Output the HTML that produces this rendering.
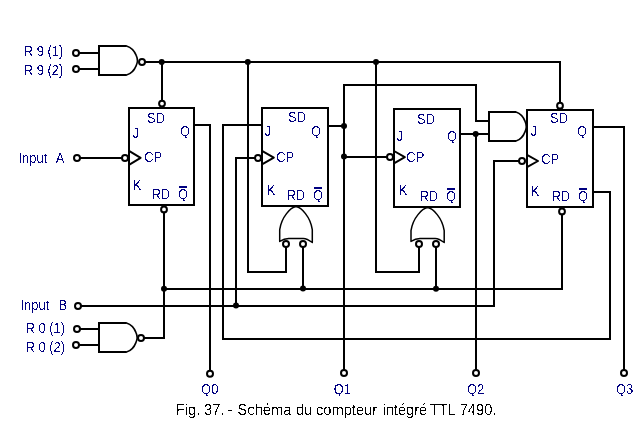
<!DOCTYPE html>
<html lang="fr">
<head>
<meta charset="utf-8">
<title>Fig. 37. - Schéma du compteur intégré TTL 7490</title>
<style>
  html, body { margin: 0; padding: 0; background: #ffffff; }
  body { width: 640px; height: 423px; overflow: hidden; position: relative; }
  svg { position: absolute; left: 0; top: 0; display: block; }
  .w { fill: none; stroke: #000; stroke-width: 2; stroke-linecap: square; stroke-linejoin: miter; }
  .g { fill: #fff; stroke: #000; stroke-width: 2; stroke-linejoin: miter; }
  .k { fill: none; stroke: #000; stroke-width: 2; stroke-linecap: butt; stroke-linejoin: round; }
  .a { fill: none; stroke: #000; stroke-width: 1.6; stroke-linecap: round; stroke-linejoin: round; }
  .t { fill: #fff; stroke: #000; stroke-width: 1.5; stroke-linejoin: round; }
  .b { fill: #fff; stroke: #000; stroke-width: 2; }
  .d { fill: #000; stroke: none; }
  .l { font-family: "Liberation Sans", Arial, sans-serif; font-size: 14px; fill: #000080; }
  .c { font-family: "Liberation Sans", Arial, sans-serif; font-size: 16px; fill: #000; text-rendering: geometricPrecision; }
  .o { fill: #000080; }
</style>
</head>
<body>
<svg width="640" height="423" viewBox="0 0 640 423">

  <defs>
    <!-- alpha threshold: renders the (real) text bi-level, like the non-antialiased original -->
    <filter id="bw" x="0" y="0" width="640" height="423" filterUnits="userSpaceOnUse" color-interpolation-filters="sRGB">
      <feComponentTransfer><feFuncA type="discrete" tableValues="0 0 0 0 0 1 1 1 1 1"/></feComponentTransfer>
    </filter>
    <filter id="bw2" x="0" y="0" width="640" height="423" filterUnits="userSpaceOnUse" color-interpolation-filters="sRGB">
      <feComponentTransfer><feFuncA type="discrete" tableValues="0 0 0 0 0 0 0 0 0 0 0 1 1 1 1 1 1 1 1 1"/></feComponentTransfer>
    </filter>
    <clipPath id="qc" clipPathUnits="userSpaceOnUse"><rect x="-2" y="-14" width="40" height="16"/></clipPath>
  </defs>

  <!-- ================= wires ================= -->
  <g class="w">
    <!-- R9 NAND inputs -->
    <path d="M80,53 H99"/>
    <path d="M80,69 H99"/>
    <!-- R9 bus -->
    <path d="M146,62 H560 V102"/>
    <path d="M162,62 V100"/>
    <path d="M248,62 V272 H286 V248"/>
    <path d="M376,62 V272 H419 V248"/>

    <!-- Input A -->
    <path d="M81,158 H121"/>
    <!-- Q0 -->
    <path d="M194,125 H210 V370"/>
    <!-- FF1 RD / R0 NAND -->
    <path d="M145,338 H164 V213"/>
    <!-- R0 bus -->
    <path d="M164,289 H562 V215"/>
    <path d="M303,248 V289"/>
    <path d="M436,248 V289"/>

    <!-- FF2 J from FF4 /Q -->
    <path d="M262,125 H223 V339 H610 V192 H593"/>
    <!-- Input B -->
    <path d="M82,306 H494 V161 H518"/>
    <path d="M236,306 V158 H254"/>
    <!-- Q1 -->
    <path d="M328,126 H344"/>
    <path d="M344,369 V85 H476 V121 H489"/>
    <path d="M344,157 H386"/>
    <!-- Q2 -->
    <path d="M460,134 H489"/>
    <path d="M476,134 V369"/>
    <!-- Q3 -->
    <path d="M593,127 H624 V369"/>
    <!-- R0 NAND inputs -->
    <path d="M81,329 H99"/>
    <path d="M80,345 H99"/>
  </g>

  <!-- ================= flip-flops ================= -->
  <g class="g">
    <rect x="129" y="108" width="65" height="97"/>
    <rect x="262" y="108" width="66" height="98"/>
    <rect x="394" y="109" width="66" height="98"/>
    <rect x="527" y="110" width="66" height="97"/>
  </g>

  <!-- clock triangles -->
  <g class="k">
    <path d="M129,150.8 L140.6,157.8 L129,164.8"/>
    <path d="M262,150.8 L273.8,157.6 L262,164.4"/>
    <path d="M394,151 L404.8,157.2 L394,163.4"/>
    <path d="M527,154.8 L538,161 L527,167.2"/>
  </g>

  <!-- ================= gates ================= -->
  <!-- NAND R9 -->
  <path class="g" d="M126.5,46 H99 V75 H126.5" />
  <path class="a" d="M126.5,46 C130.5,47.2 134.4,50.8 136.2,55.4 C137.8,58.8 137.8,62.2 136.2,65.6 C134.4,70.2 130.5,73.8 126.5,75"/>
  <!-- NAND R0 -->
  <path class="g" d="M126.5,323 H99 V352 H126.5" />
  <path class="a" d="M126.5,323 C130.4,324.2 134.2,327.8 135.9,332.4 C137.5,335.8 137.5,339.2 135.9,342.6 C134.2,347.2 130.4,350.8 126.5,352"/>
  <!-- AND -->
  <path class="g" d="M516,112 H489 V141 H516" />
  <path class="a" d="M516,112 C519.7,113.2 523.4,116.8 525.1,121.4 C526.6,124.8 526.6,128.2 525.1,131.6 C523.4,136.2 519.7,139.8 516,141"/>

  <g class="t">
    <!-- OR gate 1 -->
    <path d="M296,206.6 C290.5,207.6 281.7,216.6 279.7,229.6 V241.4 C282.7,239.6 285.7,238.6 288.7,238.5 H303.3 C306.3,238.6 309.3,240.3 312.3,242.5 V229.6 C310.3,216.6 301.5,207.6 296,206.6 Z"/>
    <!-- OR gate 2 -->
    <path d="M427.6,207.6 C422.1,208.6 413.0,217.6 411.0,230.6 V241.4 C414.0,239.6 417.0,238.6 420.0,238.5 H435.2 C438.2,238.6 441.2,240.3 444.2,242.5 V230.6 C442.2,217.6 433.1,208.6 427.6,207.6 Z"/>
  </g>

  <!-- ================= bubbles / terminals ================= -->
  <g class="b">
    <!-- input terminals -->
    <circle cx="76" cy="53" r="3"/>
    <circle cx="76" cy="69" r="3"/>
    <circle cx="77" cy="158" r="3"/>
    <circle cx="78" cy="306" r="3"/>
    <circle cx="77" cy="329" r="3"/>
    <circle cx="76" cy="345" r="3"/>
    <!-- output terminals -->
    <circle cx="210" cy="373.8" r="3"/>
    <circle cx="344" cy="373" r="3"/>
    <circle cx="476" cy="373" r="3"/>
    <circle cx="624" cy="373" r="3"/>
    <!-- NAND bubbles -->
    <circle cx="142" cy="62" r="3"/>
    <circle cx="141" cy="338" r="3"/>
    <!-- SD bubbles -->
    <circle cx="162" cy="103.6" r="2.9"/>
    <circle cx="560" cy="105.7" r="2.9"/>
    <!-- RD bubbles -->
    <circle cx="164" cy="209.4" r="2.9"/>
    <circle cx="562" cy="211.4" r="2.9"/>
    <!-- CP bubbles -->
    <circle cx="125" cy="158" r="3"/>
    <circle cx="258" cy="158" r="3"/>
    <circle cx="390" cy="157" r="3"/>
    <circle cx="522" cy="161" r="3"/>
    <!-- OR gate input bubbles -->
    <circle cx="286" cy="244" r="3"/>
    <circle cx="303" cy="244" r="3"/>
    <circle cx="419" cy="244" r="3"/>
    <circle cx="436" cy="244" r="3"/>
  </g>

  <!-- junction dots -->
  <g class="d">
    <circle cx="161.7" cy="62" r="3"/>
    <circle cx="247.8" cy="62" r="3"/>
    <circle cx="376" cy="62" r="3"/>
    <circle cx="344" cy="126" r="3"/>
    <circle cx="344" cy="156.6" r="3"/>
    <circle cx="475.7" cy="134" r="3"/>
    <circle cx="164" cy="288.8" r="3"/>
    <circle cx="303" cy="288.6" r="3"/>
    <circle cx="436" cy="288.8" r="3"/>
    <circle cx="236" cy="305.6" r="3"/>
  </g>

  <!-- ================= labels ================= -->
  <g class="l" filter="url(#bw)">
    <text transform="translate(23.7 56) scale(0.929 1)">R 9 (1)</text>
    <text transform="translate(23.7 75) scale(0.929 1)">R 9 (2)</text>
    <text transform="translate(18.4 163) scale(0.929 1)" xml:space="preserve" style="word-spacing:1px">Input  A</text>
    <text transform="translate(20.4 310) scale(0.929 1)" xml:space="preserve" style="word-spacing:1px">Input  B</text>
    <text transform="translate(25.4 333) scale(0.929 1)">R 0 (1)</text>
    <text transform="translate(25.4 352) scale(0.929 1)">R 0 (2)</text>
    <text transform="translate(147.0 123) scale(0.929 1)">SD</text>
    <text transform="translate(132.4 138) scale(0.929 1)">J</text>
    <text transform="translate(180.0 136) scale(0.929 1)" clip-path="url(#qc)">Q</text>
    <text transform="translate(144.2 162) scale(0.929 1)">CP</text>
    <text transform="translate(132.7 190) scale(0.929 1)">K</text>
    <text transform="translate(151.4 199) scale(0.929 1)">RD</text>
    <text transform="translate(178.0 199) scale(0.929 1)" clip-path="url(#qc)">Q</text>
    <text transform="translate(288.0 122) scale(0.929 1)">SD</text>
    <text transform="translate(264.4 136) scale(0.929 1)">J</text>
    <text transform="translate(311.0 136) scale(0.929 1)" clip-path="url(#qc)">Q</text>
    <text transform="translate(276.2 162) scale(0.929 1)">CP</text>
    <text transform="translate(266.7 195) scale(0.929 1)">K</text>
    <text transform="translate(286.4 200) scale(0.929 1)">RD</text>
    <text transform="translate(313.0 200) scale(0.929 1)" clip-path="url(#qc)">Q</text>
    <text transform="translate(417.0 124) scale(0.929 1)">SD</text>
    <text transform="translate(396.4 141) scale(0.929 1)">J</text>
    <text transform="translate(447.0 141) scale(0.929 1)" clip-path="url(#qc)">Q</text>
    <text transform="translate(406.3 162) scale(0.929 1)">CP</text>
    <text transform="translate(398.7 195) scale(0.929 1)">K</text>
    <text transform="translate(419.4 201) scale(0.929 1)">RD</text>
    <text transform="translate(446.0 201) scale(0.929 1)" clip-path="url(#qc)">Q</text>
    <text transform="translate(550.0 123) scale(0.929 1)">SD</text>
    <text transform="translate(530.4 136) scale(0.929 1)">J</text>
    <text transform="translate(577.0 136) scale(0.929 1)" clip-path="url(#qc)">Q</text>
    <text transform="translate(541.2 164) scale(0.929 1)">CP</text>
    <text transform="translate(530.7 196) scale(0.929 1)">K</text>
    <text transform="translate(551.4 201) scale(0.929 1)">RD</text>
    <text transform="translate(578.0 201) scale(0.929 1)" clip-path="url(#qc)">Q</text>
    <text transform="translate(201.1 394) scale(0.929 1)" clip-path="url(#qc)">Q0</text>
    <text transform="translate(333.7 394) scale(0.929 1)" clip-path="url(#qc)">Q1</text>
    <text transform="translate(467.0 394) scale(0.929 1)" clip-path="url(#qc)">Q2</text>
    <text transform="translate(616.0 394) scale(0.929 1)" clip-path="url(#qc)">Q3</text>
  </g>

  <!-- overbars of /Q -->
  <g class="o">
    <rect x="179" y="186" width="8" height="2"/>
    <rect x="314" y="187" width="8" height="2"/>
    <rect x="447" y="188" width="8" height="2"/>
    <rect x="579" y="188" width="8" height="2"/>
  </g>

  <!-- caption -->
  <text class="c" filter="url(#bw2)" transform="scale(0.91687 1)" y="415"><tspan x="191.74">Fig. </tspan><tspan x="222.49">37. </tspan><tspan x="248.02">- </tspan><tspan x="259.14">Schéma </tspan><tspan x="322.73">du </tspan><tspan x="344.65">compteur </tspan><tspan x="417.07">intégré </tspan><tspan x="468.88">TTL </tspan><tspan x="501.38">7490.</tspan></text>
</svg>
</body>
</html>
